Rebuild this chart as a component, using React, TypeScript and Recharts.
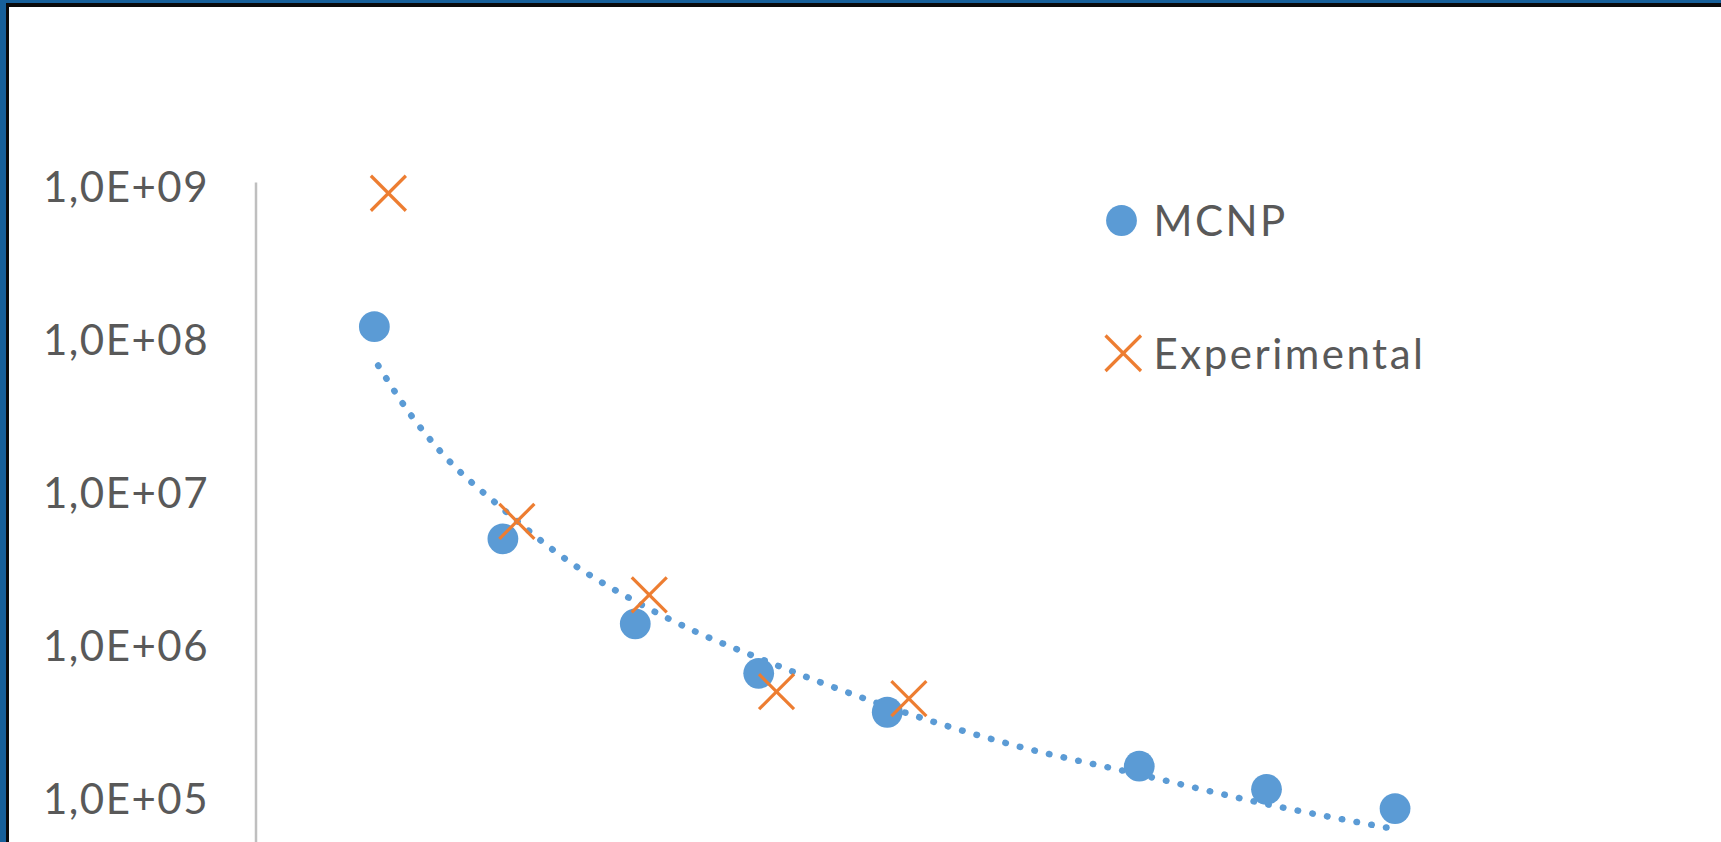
import * as React from "react"
import { ComposedChart, XAxis, YAxis, Scatter, Line, Legend } from "recharts"

// values
const mcnpX = [0.98, 1.99, 3.03, 4.0, 5.01, 6.99, 7.99, 9.0]
const mcnpY = [1.22e8, 5.0e6, 1.39e6, 6.6e5, 3.67e5, 1.63e5, 1.15e5, 8.6e4]

const expX = [1.09, 2.1, 3.14, 4.14, 5.18]
const expY = [9.1e8, 6.5e6, 2.15e6, 5.0e5, 4.5e5]

// dotted power trendline of the MCNP series, read at several points
const trendX = [1.01, 1.27, 1.5, 2.0, 2.5, 3.03, 3.5, 4.0, 4.5, 5.01, 6.0, 6.99, 7.99, 8.94]
const trendY = [6.8e7, 3.2e7, 1.86e7, 7.7e6, 3.6e6, 1.95e6, 1.24e6, 8.3e5, 5.7e5, 4.0e5, 2.24e5, 1.44e5, 9.2e4, 6.45e4]

const yTicks = [1e5, 1e6, 1e7, 1e8, 1e9]

const BLUE = "#5b9bd5"
const ORANGE = "#ed7d31"
const TEXT = "#595959"
const FONT = "Lato, Carlito, Calibri, sans-serif"

const mcnpData = mcnpX.map((x, i) => ({ x, y: mcnpY[i] }))
const expData = expX.map((x, i) => ({ x, y: expY[i] }))
const trendData = trendX.map((x, i) => ({ x, y: trendY[i] }))

const formatSci = (v: number) => {
  const exp = Math.round(Math.log10(v))
  return `1,0E+${String(exp).padStart(2, "0")}`
}

const YTick = (props: any) => {
  const { x, y, payload } = props
  return (
    <text
      x={x}
      y={y}
      dy="0.355em"
      textAnchor="end"
      fill={TEXT}
      fontSize={42}
      fontFamily={FONT}
      letterSpacing={1.5}
    >
      {formatSci(payload.value)}
    </text>
  )
}

const Dot = (props: any) => {
  const { cx, cy } = props
  if (cx == null || cy == null) return null
  return <circle cx={cx} cy={cy} r={15.4} fill={BLUE} />
}

const Cross = (props: any) => {
  const { cx, cy } = props
  if (cx == null || cy == null) return null
  const h = 17.5
  return (
    <g stroke={ORANGE} strokeWidth={3.2}>
      <line x1={cx - h} y1={cy - h} x2={cx + h} y2={cy + h} />
      <line x1={cx - h} y1={cy + h} x2={cx + h} y2={cy - h} />
    </g>
  )
}

const legendItems = [
  { name: "MCNP", kind: "dot" },
  { name: "Experimental", kind: "cross" },
]

const LegendBox = () => {
  return (
    <div style={{ position: "relative", width: 420, height: 200 }}>
      {legendItems.map((item, index) => (
        <div
          key={`legend-item-${index}`}
          style={{
            position: "absolute",
            left: 0,
            top: index * 133,
            height: 61,
            display: "flex",
            alignItems: "center",
          }}
        >
          <svg width={46} height={61} style={{ display: "block" }}>
            {item.kind === "dot" ? (
              <circle cx={21.5} cy={30.5} r={15.4} fill={BLUE} />
            ) : (
              <g stroke={ORANGE} strokeWidth={3.2}>
                <line x1={5.5} y1={12.5} x2={41} y2={48} />
                <line x1={5.5} y1={48} x2={41} y2={12.5} />
              </g>
            )}
          </svg>
          <span
            style={{
              marginLeft: 7.5,
              fontFamily: FONT,
              fontSize: 42,
              lineHeight: "61px",
              color: TEXT,
              letterSpacing: 2.5,
              whiteSpace: "nowrap",
            }}
          >
            {item.name}
          </span>
        </div>
      ))}
    </div>
  )
}

export default function App() {
  return (
    <div
      style={{
        position: "absolute",
        left: 0,
        top: 0,
        width: 1721,
        height: 842,
        overflow: "hidden",
        background: "#ffffff",
      }}
    >
      <ComposedChart
        width={1721}
        height={962}
        margin={{ top: 182.5, right: 20.5, bottom: 10.5, left: 0 }}
      >
        <XAxis type="number" dataKey="x" domain={[0.05, 11.4]} hide />
        <YAxis
          type="number"
          dataKey="y"
          scale="log"
          domain={[1e4, 1.07e9]}
          ticks={yTicks}
          interval={0}
          width={256}
          tickLine={false}
          tickSize={0}
          tickMargin={47}
          axisLine={{ stroke: "#bfbfbf", strokeWidth: 2.5 }}
          tick={<YTick />}
        />
        <Scatter name="MCNP" data={mcnpData} shape={<Dot />} isAnimationActive={false} />
        <Scatter name="Experimental" data={expData} shape={<Cross />} isAnimationActive={false} />
        <Line
          data={trendData}
          dataKey="y"
          type="monotone"
          stroke={BLUE}
          strokeWidth={6.5}
          strokeLinecap="round"
          strokeDasharray="0.5 14.5"
          dot={false}
          activeDot={false}
          legendType="none"
          isAnimationActive={false}
        />
        <Legend
          layout="vertical"
          align="center"
          verticalAlign="middle"
          wrapperStyle={{ left: 1100, top: 190, width: 420 }}
          content={<LegendBox />}
        />
      </ComposedChart>
      {/* frame edges at top and left */}
      <div style={{ position: "absolute", left: 0, top: 0, width: 1721, height: 3, background: "#17609a" }} />
      <div style={{ position: "absolute", left: 0, top: 0, width: 6, height: 842, background: "#17609a" }} />
      <div style={{ position: "absolute", left: 6, top: 3, width: 1715, height: 4, background: "#0a0a0a" }} />
      <div style={{ position: "absolute", left: 6, top: 3, width: 3, height: 839, background: "#0a0a0a" }} />
    </div>
  )
}
